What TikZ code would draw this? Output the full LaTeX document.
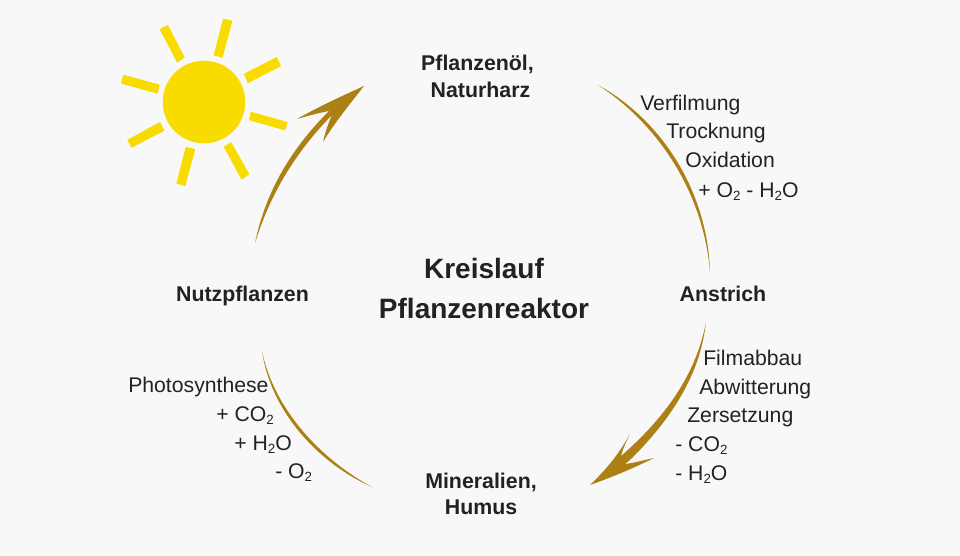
\documentclass[tikz,border=0pt]{standalone}
\usepackage{fontspec}
\setmainfont{Liberation Sans}
\definecolor{bgc}{HTML}{F8F8F8}
\definecolor{sunc}{HTML}{F8DC00}
\definecolor{arcc}{HTML}{AD8015}
\definecolor{txtc}{HTML}{222222}
\newcommand{\sbs}[1]{\raisebox{-0.35ex}{\fontsize{10}{10}\selectfont #1}}
\tikzset{
  x=0.75pt,y=-0.75pt,
  lab/.style={anchor=base west,inner sep=0pt,text=txtc,font=\fontsize{15.9}{18}\selectfont},
  head/.style={anchor=base,inner sep=0pt,text=txtc,font=\fontsize{16}{18}\bfseries\selectfont},
  title/.style={anchor=base,inner sep=0pt,text=txtc,font=\fontsize{21}{24}\bfseries\selectfont},
  sunfill/.style={fill=sunc,draw=sunc,line width=0.4pt},
  arcfill/.style={fill=arcc,draw=none},
}
\begin{document}
\begin{tikzpicture}
\useasboundingbox[fill=bgc] (0,0) rectangle (960,556);
% sun
\fill[sunfill] (204,102) circle[radius=41];
\begin{scope}[shift={(100,0)},x=0.25pt,y=-0.25pt]
\fill[sunfill] (180,88)--(203,76)--(253,172)--(232,187)--cycle;
\fill[sunfill] (370,57)--(396,63)--(367,172)--(342,165)--cycle;
\fill[sunfill] (433,222)--(530,172)--(542,198)--(444,248)--cycle;
\fill[sunfill] (453,336)--(562,367)--(555,390)--(448,360)--cycle;
\fill[sunfill] (372,440)--(393,428)--(447,522)--(425,538)--cycle;
\fill[sunfill] (258,442)--(285,448)--(255,557)--(230,550)--cycle;
\fill[sunfill] (83,420)--(180,367)--(192,392)--(95,442)--cycle;
\fill[sunfill] (70,225)--(178,255)--(172,280)--(64,250)--cycle;
\end{scope}
% named ends
\coordinate (a1s) at (598,85);  \coordinate (a1e) at (710,273);
\coordinate (a2s) at (706,322); \coordinate (a2tip) at (590,485);
\coordinate (a3s) at (255,243); \coordinate (a3tip) at (364,86);
\coordinate (a4s) at (262,351); \coordinate (a4e) at (372,487);
% arc top right
\fill[arcfill] (a1s) .. controls (662,120) and (708,192) .. (a1e)
  .. controls (704,193) and (658,124) .. cycle;
% arc lower right, arrow
\fill[arcfill] (a2s) .. controls (698,365) and (674,410) .. (621,456)
  .. controls (623,448) and (627,440) .. (630,434)
  .. controls (622,448) and (612,464) .. (a2tip)
  .. controls (610,478) and (634,468) .. (654,458)
  .. controls (644,460) and (634,463) .. (625,464)
  .. controls (628,462) and (630,460) .. (632,458)
  .. controls (678,412) and (701,368) .. cycle;
% arrow upper left
\fill[arcfill] (a3s) .. controls (266,190) and (292,148) .. (329,111)
  .. controls (318,113) and (308,116) .. (297,119)
  .. controls (320,106) and (342,96) .. (a3tip)
  .. controls (350,104) and (335,122) .. (323,142)
  .. controls (325,133) and (328,124) .. (332,115)
  .. controls (296,152) and (271,192) .. cycle;
% arc lower left
\fill[arcfill] (a4s) .. controls (274,410) and (322,460) .. (a4e)
  .. controls (320,464) and (271,413) .. cycle;
% labels
\node[head] (oel) at (477.5,70.5) {Pflanzenöl,};
\node[head] (harz) at (480.5,98) {Naturharz};
\node[head] (anstrich) at (723,301.5) {Anstrich};
\node[head] (mineral) at (481,488.5) {Mineralien,};
\node[head] (humus) at (481,514.5) {Humus};
\node[head] (nutz) at (242.5,301) {Nutzpflanzen};
\node[title] (kreis) at (484,278) {Kreislauf};
\node[title] (reaktor) at (484,318) {Pflanzenreaktor};
\node[lab] (v1) at (640,111) {Verfilmung};
\node[lab] (v2) at (666,139) {Trocknung};
\node[lab] (v3) at (685,168) {Oxidation};
\node[lab] (v4) at (698,197) {+ O\sbs{2} - H\sbs{2}O};
\node[lab] (f1) at (703,365) {Filmabbau};
\node[lab] (f2) at (699,394) {Abwitterung};
\node[lab] (f3) at (687,422) {Zersetzung};
\node[lab] (f4) at (675,451) {- CO\sbs{2}};
\node[lab] (f5) at (675,480) {- H\sbs{2}O};
\node[lab] (p1) at (128,392) {Photosynthese};
\node[lab] (p2) at (216,421) {+ CO\sbs{2}};
\node[lab] (p3) at (234,450) {+ H\sbs{2}O};
\node[lab] (p4) at (275,478) {- O\sbs{2}};
\end{tikzpicture}
\end{document}
